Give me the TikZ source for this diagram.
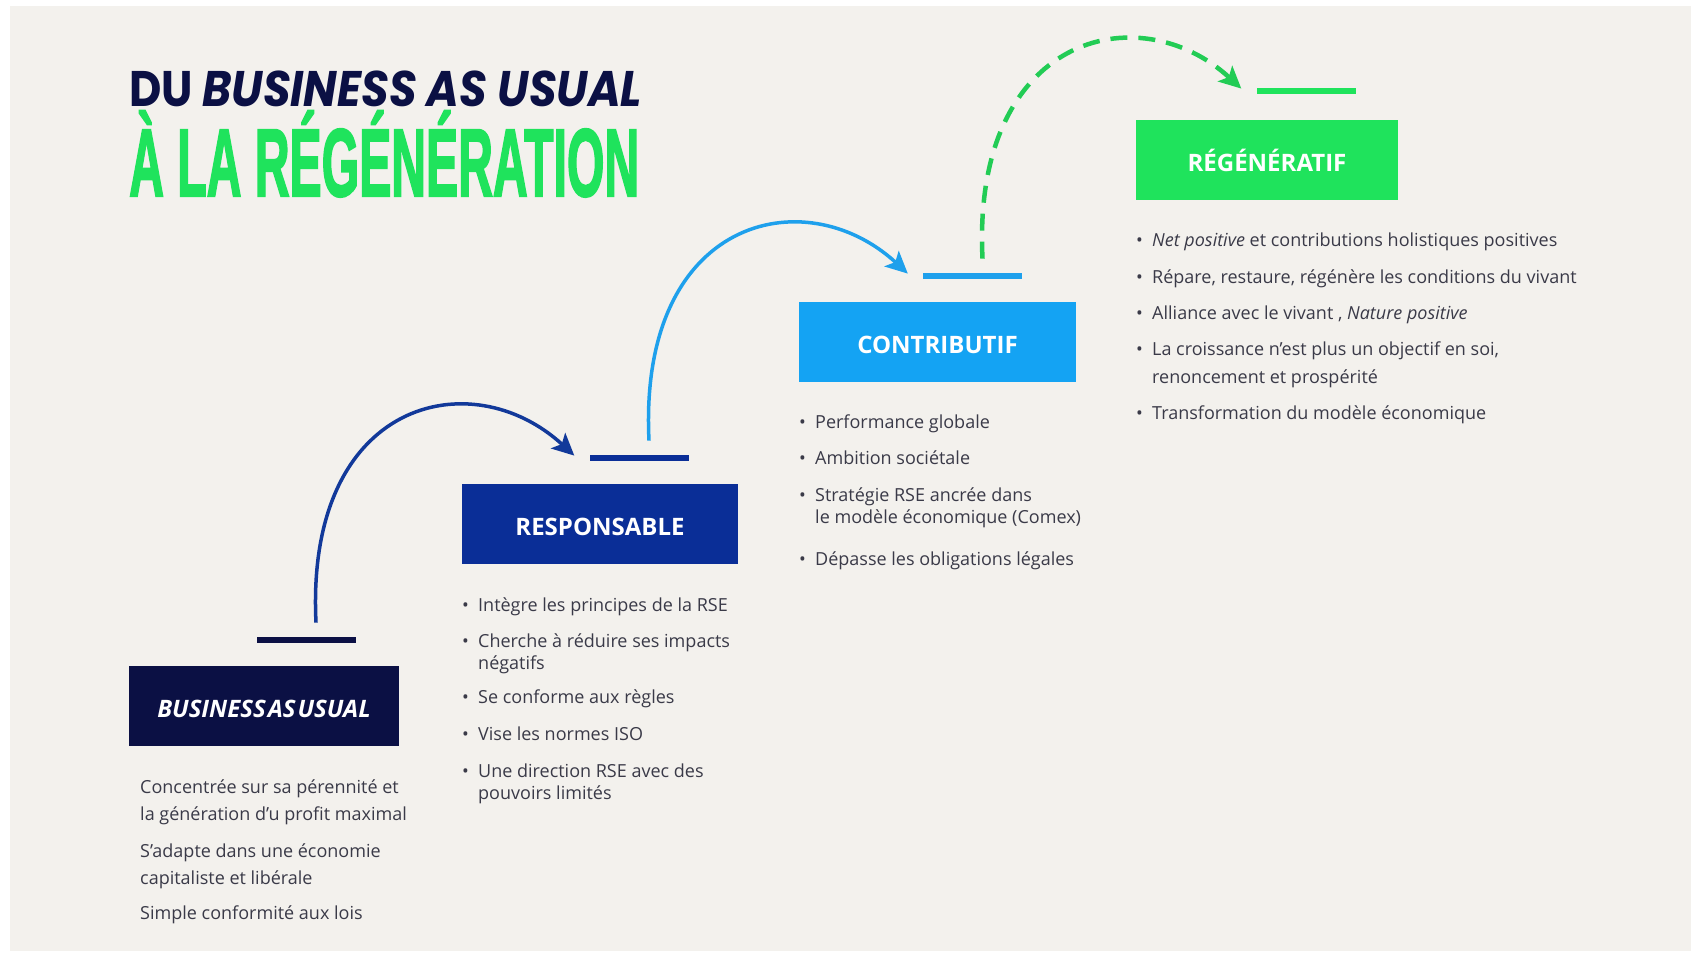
\documentclass[tikz,border=0pt]{standalone}
\usepackage{fontspec}
\usepackage{graphicx}
\setmainfont{Open Sans}
\newfontfamily\titlefont{Poppins}
\newfontfamily\condfont[BoldFeatures={FakeBold=2.5}]{Liberation Sans}
\usetikzlibrary{positioning,arrows.meta}

\definecolor{paper}{HTML}{F3F1ED}
\definecolor{navydark}{HTML}{0B1044}
\definecolor{royal}{HTML}{0A2E97}
\definecolor{sky}{HTML}{14A3F3}
\definecolor{leaf}{HTML}{1FE35C}
\definecolor{navyline}{HTML}{12399A}
\definecolor{skyline}{HTML}{1EA0EC}
\definecolor{leafline}{HTML}{22CC55}
\definecolor{txtgray}{HTML}{3A3A48}

\tikzset{
  stage/.style={fill=#1, text=white, minimum height=80pt, inner sep=0pt,
    text height=22pt, text depth=0pt, font=\fontsize{24}{24}\selectfont\bfseries},
  stagebar/.style={fill=#1, minimum width=99pt, minimum height=6pt, inner sep=0pt},
  leap/.style={draw=#1, line width=3.5pt,
    -{Stealth[length=22pt,width=21pt,inset=5pt]}},
  itemlist/.style={text=txtgray, inner sep=0pt, anchor=base west,
    font=\fontsize{18}{21.5}\selectfont},
}
\newcommand\itm{\makebox[16pt][l]{•}}
\newcommand\cont{\hspace*{16pt}}

\begin{document}
\begin{tikzpicture}[x=1pt,y=-1pt]
\useasboundingbox (0,0) rectangle (1691,954);
\fill[white] (0,0) rectangle (1691,954);
\fill[paper] (10,6) rectangle (1691,951);

% TITLE
\node[anchor=base west, inner sep=0pt, text=navydark] (title) at (129,106)
  {\resizebox{513pt}{\height}{\titlefont\bfseries\fontsize{50}{50}\selectfont DU \itshape BUSINESS AS USUAL}};
\node[anchor=base west, inner sep=0pt, text=leaf] (subtitle) at (129,196)
  {\resizebox{510pt}{\height}{\condfont\bfseries\fontsize{96}{96}\selectfont À LA RÉGÉNÉRATION}};

% STAGES
\node[stage=navydark, minimum width=270pt] (bau) at (264,706) {\itshape\spaceskip=2pt BUSINESS AS USUAL};
\node[stage=royal, minimum width=276pt] (resp) at (600,524) {RESPONSABLE};
\node[stage=sky, minimum width=277pt] (contr) at (937.5,342) {CONTRIBUTIF};
\node[stage=leaf, minimum width=262pt] (regen) at (1267,160) {RÉGÉNÉRATIF};

% STEPS
\node[stagebar=navydark, above=23pt of bau.north, xshift=42pt] (bauBar) {};
\node[stagebar=royal, above=23pt of resp.north, xshift=39pt] (respBar) {};
\node[stagebar=skyline, above=23pt of contr.north, xshift=35pt] (contrBar) {};
\node[stagebar=leaf, above=26pt of regen.north, xshift=39pt] (regenBar) {};

% ARROWS
\draw[leap=navyline] ([xshift=10pt,yshift=17pt]bauBar.center)
  .. controls +(-11,-223) and +(-103,-95) .. ([xshift=-15pt,yshift=2pt]respBar.west);
\draw[leap=skyline] ([xshift=10pt,yshift=17pt]respBar.center)
  .. controls +(-11,-223) and +(-103,-95) .. ([xshift=-15pt,yshift=2pt]contrBar.west);
\draw[leap=leafline, line width=4.5pt, dash pattern=on 17pt off 11pt] ([xshift=10pt,yshift=17pt]contrBar.center)
  .. controls +(-11,-223) and +(-103,-95) .. ([xshift=-15pt,yshift=2pt]regenBar.west);

% TEXTS
\node[itemlist, font=\fontsize{18}{27}\selectfont] (bauText) at (140,793.5) {\begin{tabular}[t]{@{}l@{}}
Concentrée sur sa pérennité et\\
la génération d’u profit maximal\\[10pt]
S’adapte dans une économie\\
capitaliste et libérale\\[8pt]
Simple conformité aux lois
\end{tabular}};

\node[itemlist, font=\fontsize{18}{22}\selectfont] (respText) at (462,611.5) {\begin{tabular}[t]{@{}l@{}}
\itm Intègre les principes de la RSE\\[14pt]
\itm Cherche à réduire ses impacts\\
\cont négatifs\\[12pt]
\itm Se conforme aux règles\\[14.5pt]
\itm Vise les normes ISO\\[15pt]
\itm Une direction RSE avec des\\
\cont pouvoirs limités
\end{tabular}};

\node[itemlist] (contrText) at (799,428) {\begin{tabular}[t]{@{}l@{}}
\itm Performance globale\\[15pt]
\itm Ambition sociétale\\[15.5pt]
\itm Stratégie RSE ancrée dans\\
\cont le modèle économique (Comex)\\[20.5pt]
\itm Dépasse les obligations légales
\end{tabular}};

\node[itemlist] (regenText) at (1136,246.5) {\begin{tabular}[t]{@{}l@{}}
\itm {\itshape Net positive} et contributions holistiques positives\\[15.5pt]
\itm Répare, restaure, régénère les conditions du vivant\\[14pt]
\itm Alliance avec le vivant , {\itshape Nature positive}\\[15pt]
\itm La croissance n’est plus un objectif en soi,\\[6.5pt]
\cont renoncement et prospérité\\[14.5pt]
\itm Transformation du modèle économique
\end{tabular}};

\end{tikzpicture}
\end{document}
